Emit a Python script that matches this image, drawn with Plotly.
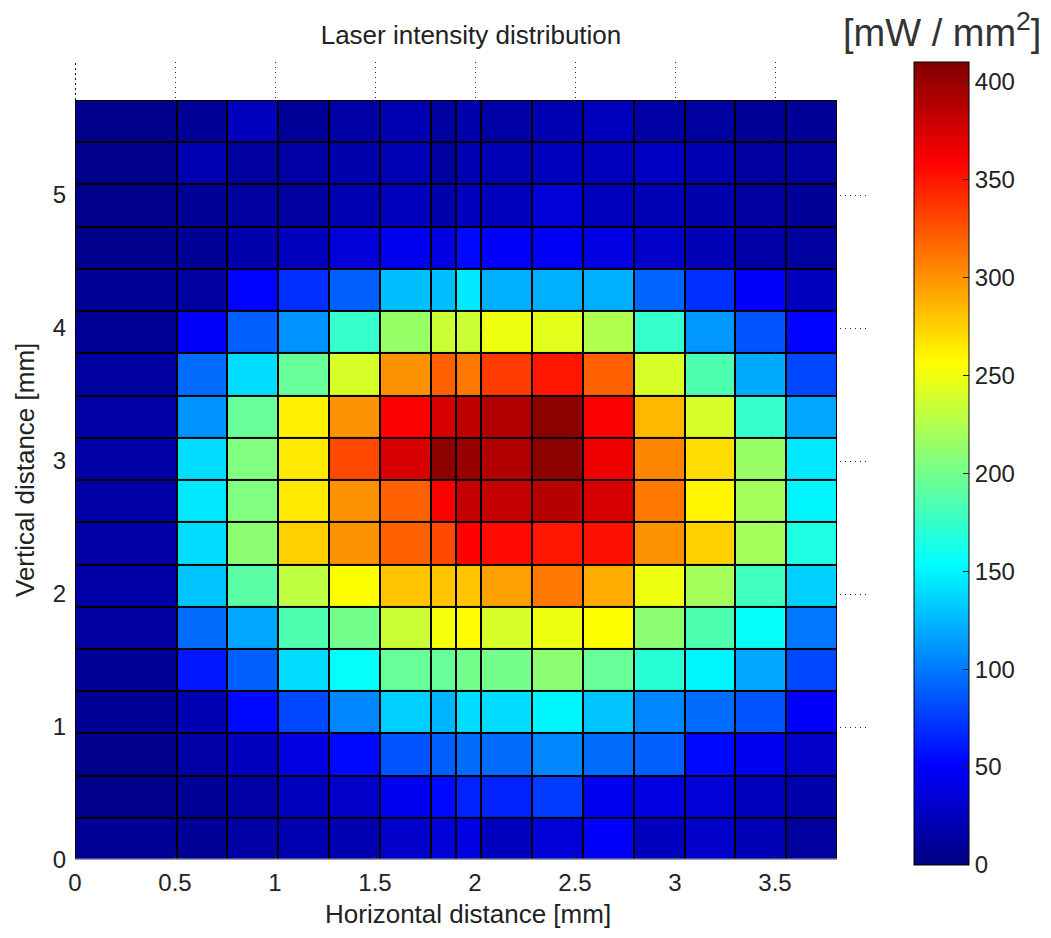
import plotly.graph_objects as go

# Cell edges (mm)
x_edges = [0, 0.508, 0.762, 1.016, 1.27, 1.524, 1.778, 1.905, 2.032,
           2.286, 2.54, 2.794, 3.048, 3.302, 3.556, 3.81]
y_edges = [0, 0.3175, 0.635, 0.9525, 1.27, 1.5875, 1.905, 2.2225, 2.54,
           2.8575, 3.175, 3.4925, 3.81, 4.1275, 4.445, 4.7625, 5.08,
           5.3975, 5.715]

# Intensity [mW/mm^2], rows from bottom (y=0) to top
row00 = [8, 10, 15, 20, 20, 30, 35, 40, 25, 35, 50, 25, 30, 22, 12]
row01 = [5, 8, 15, 25, 30, 45, 55, 65, 65, 75, 45, 40, 35, 25, 18]
row02 = [5, 15, 25, 40, 55, 85, 90, 95, 95, 105, 95, 90, 55, 45, 30]
row03 = [8, 20, 55, 80, 105, 135, 125, 140, 140, 150, 130, 105, 95, 85, 50]
row04 = [10, 60, 90, 140, 155, 195, 195, 200, 200, 210, 195, 170, 150, 118, 80]
row05 = [12, 95, 118, 185, 200, 235, 252, 258, 240, 250, 256, 210, 185, 155, 100]
row06 = [15, 130, 190, 230, 256, 280, 280, 280, 295, 310, 290, 250, 220, 180, 135]
row07 = [15, 140, 210, 275, 300, 320, 330, 358, 355, 350, 352, 300, 275, 220, 165]
row08 = [15, 145, 205, 265, 300, 320, 360, 382, 382, 388, 375, 310, 260, 220, 150]
row09 = [15, 140, 205, 265, 330, 375, 405, 400, 390, 405, 365, 305, 270, 215, 145]
row10 = [15, 110, 195, 262, 300, 360, 375, 385, 390, 405, 360, 285, 240, 175, 118]
row11 = [12, 95, 140, 195, 240, 300, 320, 310, 335, 350, 320, 240, 185, 120, 80]
row12 = [10, 50, 90, 110, 175, 215, 235, 235, 250, 245, 225, 175, 112, 85, 52]
row13 = [8, 12, 52, 70, 90, 128, 128, 145, 122, 122, 122, 92, 70, 50, 25]
row14 = [5, 8, 18, 25, 35, 45, 40, 55, 50, 48, 40, 30, 22, 15, 12]
row15 = [5, 8, 12, 12, 20, 25, 18, 25, 25, 35, 25, 22, 18, 12, 10]
row16 = [5, 20, 12, 15, 18, 22, 12, 20, 22, 25, 25, 28, 20, 12, 12]
row17 = [5, 10, 25, 10, 15, 20, 12, 18, 15, 20, 25, 15, 12, 10, 10]

z = [row00, row01, row02, row03, row04, row05, row06, row07, row08,
     row09, row10, row11, row12, row13, row14, row15, row16, row17]

x_ticks = [0, 0.5, 1, 1.5, 2, 2.5, 3, 3.5]
x_ticktext = ["0", "0.5", "1", "1.5", "2", "2.5", "3", "3.5"]
y_ticks = [0, 1, 2, 3, 4, 5]
cb_ticks = [0, 50, 100, 150, 200, 250, 300, 350, 400]

jet = [[0.0, "rgb(0,0,128)"], [0.125, "rgb(0,0,255)"], [0.375, "rgb(0,255,255)"],
       [0.625, "rgb(255,255,0)"], [0.875, "rgb(255,0,0)"], [1.0, "rgb(128,0,0)"]]

FONT = "Liberation Sans, Arial, sans-serif"
TXT = "#222222"

W, H = 1051, 938
ML, MR, MT, MB = 75, 181, 62, 78
PW, PH = W - ML - MR, H - MT - MB

fig = go.Figure()
fig.add_trace(go.Heatmap(
    x=x_edges, y=y_edges, z=z,
    colorscale=jet, zmin=0, zmax=410, zsmooth=False,
    xgap=2, ygap=2,
    colorbar=dict(
        x=(914 - ML) / PW, xanchor="left", xpad=0,
        y=(H - MB - 463.5) / PH, yanchor="middle", ypad=0,
        thickness=55, len=803, lenmode="pixels",
        outlinecolor="black", outlinewidth=1,
        tickvals=cb_ticks, ticks="inside", ticklen=6, tickcolor="#222",
        tickfont=dict(family=FONT, size=24, color=TXT),
    ),
))

# black backing so gaps between cells read as cell borders
fig.add_shape(type="rect", xref="x", yref="y", layer="below",
              x0=x_edges[0], x1=x_edges[-1], y0=y_edges[0], y1=y_edges[-1],
              fillcolor="black", line=dict(width=0))
# bottom axis line under the data
fig.add_shape(type="line", xref="x", yref="y", layer="above",
              x0=x_edges[0], x1=x_edges[-1], y0=y_edges[0], y1=y_edges[0],
              line=dict(color="#9aa0a8", width=3))
# left edge dotted line above the data (x = 0 grid line)
fig.add_shape(type="line", xref="x", yref="paper", layer="above",
              x0=x_edges[0], x1=x_edges[0], y0=y_edges[-1] / 6.0, y1=1,
              line=dict(color="#111", width=2, dash="2px,3px"))

fig.update_layout(
    width=W, height=H, autosize=False,
    margin=dict(l=ML, r=MR, t=MT, b=MB),
    paper_bgcolor="white", plot_bgcolor="white",
    font=dict(family=FONT, color=TXT),
    title=dict(text="Laser intensity distribution", x=(471 - ML) / PW, xref="paper",
               xanchor="center", y=1 - 35 / H, yref="container", yanchor="middle",
               font=dict(family=FONT, size=26, color=TXT)),
    xaxis=dict(range=[0, 3.975], tickvals=x_ticks, ticktext=x_ticktext,
               showgrid=True, gridcolor="#222", griddash="1px,4px", gridwidth=1,
               zeroline=False, showline=False, ticks="inside", ticklen=5,
               tickcolor="#222", ticklabelstandoff=6,
               tickfont=dict(family=FONT, size=24, color=TXT)),
    yaxis=dict(range=[0, 6.0], tickvals=y_ticks,
               showgrid=True, gridcolor="#222", griddash="1px,4px", gridwidth=1,
               zeroline=False, showline=False, ticks="", ticklabelstandoff=8,
               tickfont=dict(family=FONT, size=24, color=TXT)),
    annotations=[
        dict(text="Horizontal distance [mm]", xref="paper", yref="paper",
             x=(468 - ML) / PW, y=(H - MB - 914) / PH, xanchor="center", yanchor="middle",
             showarrow=False, font=dict(family=FONT, size=26, color=TXT)),
        dict(text="Vertical distance [mm]", xref="paper", yref="paper",
             x=(25 - ML) / PW, y=(H - MB - 470) / PH, xanchor="center", yanchor="middle",
             textangle=-90, showarrow=False, font=dict(family=FONT, size=26, color=TXT)),
        dict(text="[mW / mm<sup>2</sup>]", xref="paper", yref="paper",
             x=(942 - ML) / PW, y=(H - MB - 30) / PH, xanchor="center", yanchor="middle",
             showarrow=False, font=dict(family=FONT, size=38, color="#333")),
    ],
)

fig.write_html("out.html")
